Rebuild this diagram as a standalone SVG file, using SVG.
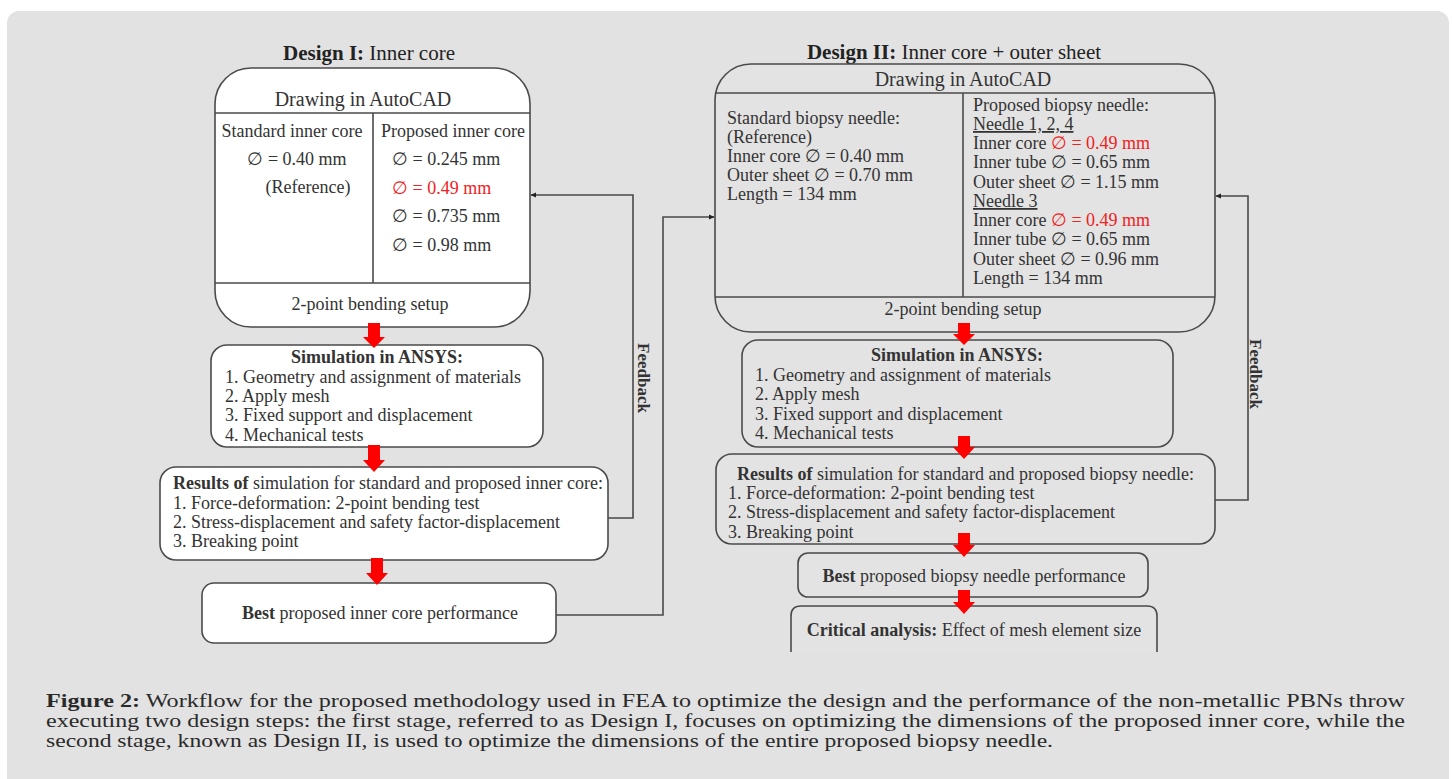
<svg xmlns="http://www.w3.org/2000/svg" width="1452" height="779" viewBox="0 0 1452 779">
<defs>
<style>
text{font-family:"Liberation Serif","Times New Roman",serif;fill:#333;}
.t{font-size:18px;}
.h{font-size:20px;}
.ti{font-size:21px;fill:#222;}
.b{font-weight:bold;}
.r{fill:#ee2222;}
.box{stroke:#4a4a4a;stroke-width:1.6;}
.w{fill:#ffffff;}
.g{fill:#e3e3e3;}
.ln{stroke:#4a4a4a;stroke-width:1.6;fill:none;}
.ar{fill:#ff0000;}
.fb{font-size:17px;font-weight:bold;}
.cap{font-size:19px;fill:#2a2a2a;}
.u{text-decoration:underline;}
</style>
<marker id="tip" markerWidth="6" markerHeight="6" refX="5" refY="3" orient="auto" markerUnits="userSpaceOnUse">
<path d="M0,0.5 L5.5,3 L0,5.5 Z" fill="#222"/>
</marker>
</defs>
<rect x="7" y="11" width="1442" height="790" rx="12" fill="#e2e2e2"/>

<g id="design1">
<text class="ti" x="369" y="60" text-anchor="middle"><tspan class="b">Design I:</tspan> Inner core</text>
<rect class="box w" x="215" y="68" width="315" height="259" rx="36"/>
<line class="ln" x1="215" y1="113" x2="530" y2="113"/>
<line class="ln" x1="215" y1="283" x2="530" y2="283"/>
<line class="ln" x1="373" y1="113" x2="373" y2="283"/>
<text class="h" x="363" y="106" text-anchor="middle">Drawing in AutoCAD</text>
<text class="t" x="292" y="137" text-anchor="middle">Standard inner core</text>
<text class="t" x="297" y="165" text-anchor="middle">∅ = 0.40 mm</text>
<text class="t" x="308" y="193" text-anchor="middle">(Reference)</text>
<text class="t" x="453" y="137" text-anchor="middle">Proposed inner core</text>
<text class="t" x="392" y="165">∅ = 0.245 mm</text>
<text class="t r" x="392" y="194">∅ = 0.49 mm</text>
<text class="t" x="392" y="222">∅ = 0.735 mm</text>
<text class="t" x="392" y="251">∅ = 0.98 mm</text>
<text class="t" x="370" y="310" text-anchor="middle">2-point bending setup</text>
</g>

<g id="sim1">
<rect class="box w" x="211" y="345" width="332" height="102" rx="16"/>
<text class="t b" x="377" y="363" text-anchor="middle">Simulation in ANSYS:</text>
<text class="t" x="225" y="383">1. Geometry and assignment of materials</text>
<text class="t" x="225" y="402">2. Apply mesh</text>
<text class="t" x="225" y="421">3. Fixed support and displacement</text>
<text class="t" x="225" y="441">4. Mechanical tests</text>
</g>

<g id="results1">
<rect class="box w" x="160" y="467" width="448" height="93" rx="16"/>
<text class="t" x="173" y="489"><tspan class="b">Results of</tspan> simulation for standard and proposed inner core:</text>
<text class="t" x="173" y="509">1. Force-deformation: 2-point bending test</text>
<text class="t" x="173" y="528">2. Stress-displacement and safety factor-displacement</text>
<text class="t" x="173" y="547">3. Breaking point</text>
</g>

<g id="best1">
<rect class="box w" x="202" y="583" width="354" height="60" rx="12"/>
<text class="t" x="380" y="619" text-anchor="middle"><tspan class="b">Best</tspan> proposed inner core performance</text>
</g>

<g id="design2">
<text class="ti" x="954" y="59" text-anchor="middle"><tspan class="b">Design II:</tspan> Inner core + outer sheet</text>
<rect class="box g" x="715" y="64" width="500" height="268" rx="36"/>
<line class="ln" x1="715" y1="93" x2="1215" y2="93"/>
<line class="ln" x1="715" y1="297" x2="1215" y2="297"/>
<line class="ln" x1="963" y1="93" x2="963" y2="297"/>
<text class="h" x="963" y="86" text-anchor="middle">Drawing in AutoCAD</text>
<text class="t" x="727" y="124">Standard biopsy needle:</text>
<text class="t" x="727" y="143">(Reference)</text>
<text class="t" x="727" y="162">Inner core ∅ = 0.40 mm</text>
<text class="t" x="727" y="181">Outer sheet ∅ = 0.70 mm</text>
<text class="t" x="727" y="200">Length = 134 mm</text>
<text class="t" x="973" y="111">Proposed biopsy needle:</text>
<text class="t u" x="973" y="130">Needle 1, 2, 4</text>
<text class="t" x="973" y="149">Inner core <tspan class="r">∅ = 0.49 mm</tspan></text>
<text class="t" x="973" y="168">Inner tube ∅ = 0.65 mm</text>
<text class="t" x="973" y="188">Outer sheet ∅ = 1.15 mm</text>
<text class="t u" x="973" y="207">Needle 3</text>
<text class="t" x="973" y="226">Inner core <tspan class="r">∅ = 0.49 mm</tspan></text>
<text class="t" x="973" y="245">Inner tube ∅ = 0.65 mm</text>
<text class="t" x="973" y="265">Outer sheet ∅ = 0.96 mm</text>
<text class="t" x="973" y="284">Length = 134 mm</text>
<text class="t" x="963" y="315" text-anchor="middle">2-point bending setup</text>
</g>

<g id="sim2">
<rect class="box g" x="742" y="340" width="431" height="107" rx="16"/>
<text class="t b" x="957" y="361" text-anchor="middle">Simulation in ANSYS:</text>
<text class="t" x="755" y="381">1. Geometry and assignment of materials</text>
<text class="t" x="755" y="400">2. Apply mesh</text>
<text class="t" x="755" y="420">3. Fixed support and displacement</text>
<text class="t" x="755" y="439">4. Mechanical tests</text>
</g>

<g id="results2">
<rect class="box g" x="716" y="454" width="499" height="90" rx="16"/>
<text class="t" x="737" y="480"><tspan class="b">Results of</tspan> simulation for standard and proposed biopsy needle:</text>
<text class="t" x="728" y="499">1. Force-deformation: 2-point bending test</text>
<text class="t" x="728" y="518">2. Stress-displacement and safety factor-displacement</text>
<text class="t" x="728" y="538">3. Breaking point</text>
</g>

<g id="best2">
<rect class="box g" x="798" y="553" width="350" height="44" rx="10"/>
<text class="t" x="974" y="582" text-anchor="middle"><tspan class="b">Best</tspan> proposed biopsy needle performance</text>
</g>

<g id="critical">
<path class="box g" d="M791,652 V616 Q791,606 801,606 H1147 Q1157,606 1157,616 V652"/>
<text class="t" x="974" y="636" text-anchor="middle"><tspan class="b">Critical analysis:</tspan> Effect of mesh element size</text>
</g>

<g id="connectors">
<path class="ln" d="M608,518 H633 V195 H531" marker-end="url(#tip)"/>
<path class="ln" d="M556,615 H663 V217 H714" marker-end="url(#tip)"/>
<path class="ln" d="M1215,500 H1248 V196 H1216" marker-end="url(#tip)"/>
<text class="fb" transform="translate(638,378) rotate(90)" text-anchor="middle">Feedback</text>
<text class="fb" transform="translate(1250,374) rotate(90)" text-anchor="middle">Feedback</text>
<path class="ar" d="M368,323 H380 V337 H385 L374,348 L363,337 H368 Z"/>
<path class="ar" d="M368,445 H380 V460 H385 L374,472 L363,460 H368 Z"/>
<path class="ar" d="M371,558 H383 V573 H388 L377,585 L366,573 H371 Z"/>
<path class="ar" d="M958,323 H970 V334 H975 L964,345 L953,334 H958 Z"/>
<path class="ar" d="M958,436 H970 V447 H975 L964,459 L953,447 H958 Z"/>
<path class="ar" d="M958,533 H970 V545 H975 L964,557 L953,545 H958 Z"/>
<path class="ar" d="M958,590 H970 V602 H975 L964,614 L953,602 H958 Z"/>
</g>

<g id="caption">
<text class="cap" x="46" y="707" textLength="1359" lengthAdjust="spacingAndGlyphs"><tspan class="b">Figure 2:</tspan> Workflow for the proposed methodology used in FEA to optimize the design and the performance of the non-metallic PBNs throw</text>
<text class="cap" x="46" y="727" textLength="1359" lengthAdjust="spacingAndGlyphs">executing two design steps: the first stage, referred to as Design I, focuses on optimizing the dimensions of the proposed inner core, while the</text>
<text class="cap" x="46" y="747" textLength="1007" lengthAdjust="spacingAndGlyphs">second stage, known as Design II, is used to optimize the dimensions of the entire proposed biopsy needle.</text>
</g>
</svg>
